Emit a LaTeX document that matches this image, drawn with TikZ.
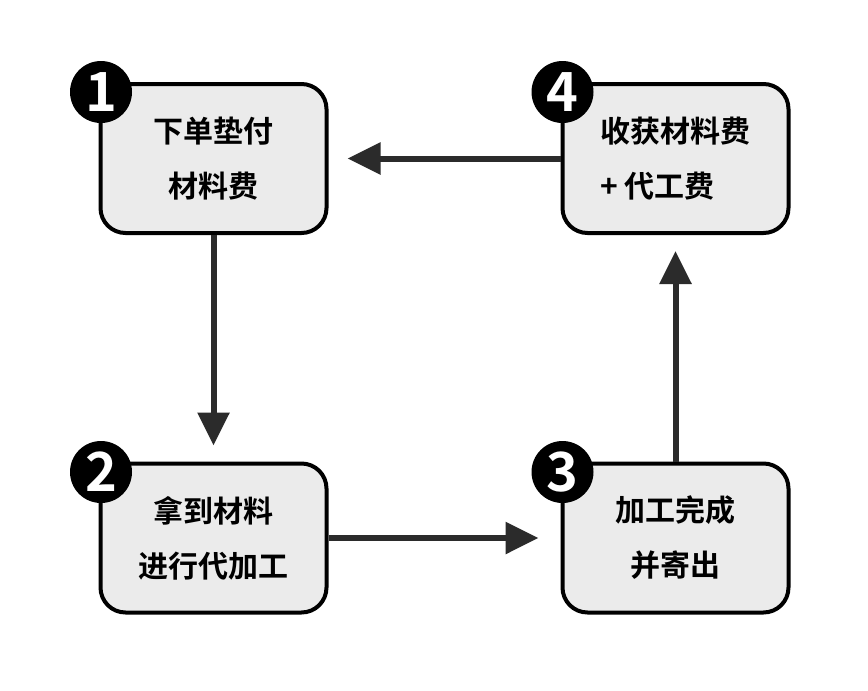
\documentclass[tikz,border=0pt]{standalone}
\usepackage{fontspec}
\newfontfamily\cjk{Noto Sans CJK SC}[BoldFont={* Bold}]
\usetikzlibrary{arrows.meta}
\definecolor{boxfill}{HTML}{EBEBEB}
\definecolor{arrowcol}{HTML}{2B2B2B}
\tikzset{
  stepbox/.style={draw=black, line width=4pt, fill=boxfill, rounded corners=25pt,
    minimum width=226pt, minimum height=149pt, inner sep=0pt,
    font=\cjk\bfseries\fontsize{30}{55}\selectfont, align=center},
  badge/.style={circle, fill=black, minimum size=62pt, inner sep=0pt,
    text=white, font=\cjk\bfseries\fontsize{54}{54}\selectfont},
  flow/.style={draw=arrowcol, line width=6pt,
    -{Triangle[length=33pt,width=31pt]}}
}
\begin{document}
\begin{tikzpicture}[x=1pt,y=-1pt]
\useasboundingbox (0,0) rectangle (868,691);
\fill[white] (0,0) rectangle (868,691);
% boxes
\node[stepbox] (b1) at (213.5,158.5) {下单垫付\\材料费};
\node[stepbox, align=left] (b4) at (675.5,158.5) {收获材料费\\+ 代工费};
\node[stepbox] (b2) at (213.5,538) {拿到材料\\进行代加工};
\node[stepbox] (b3) at (675.5,538) {加工完成\\并寄出};
% arrows
\draw[flow, shorten >=16pt] (b1.south) -- (b2.north);
\draw[flow, shorten >=22pt] (b2.east) -- (b3.west);
\draw[flow, shorten >=16pt] (b3.north) -- (b4.south);
\draw[flow, shorten >=19pt] (b4.west) -- (b1.east);
% badges
\node[badge] (n1) at (101,92) {1};
\node[badge] (n4) at (562.5,92) {4};
\node[badge] (n2) at (101,472) {2};
\node[badge] (n3) at (562.5,472) {3};
\end{tikzpicture}
\end{document}
